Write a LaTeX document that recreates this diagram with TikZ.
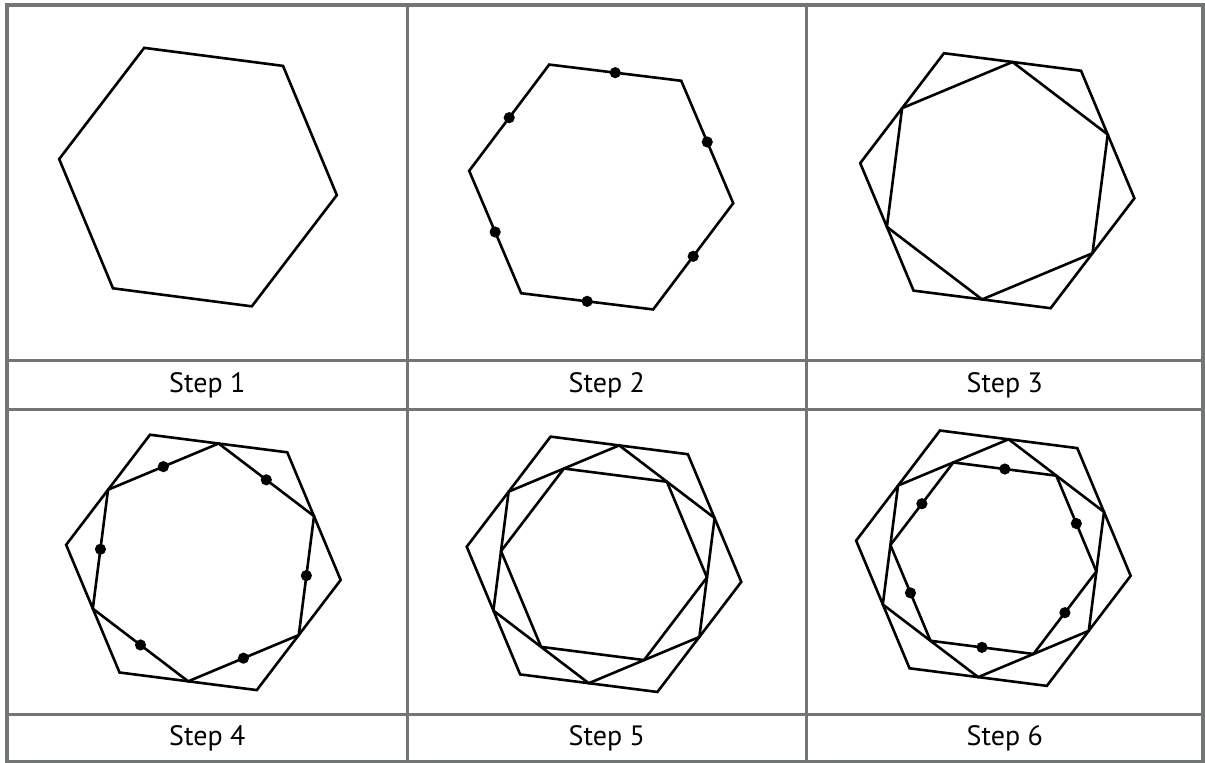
\documentclass[tikz,border=0pt]{standalone}
\usepackage{fontspec}
\setmainfont{PT Sans}
\definecolor{gridgray}{RGB}{113,118,116}
\newcommand\hexring[3]{% center, radius, start angle
  \draw[hexline, shift={(#1)}] (#3:#2) -- ({#3+60}:#2) -- ({#3+120}:#2) -- ({#3+180}:#2) -- ({#3+240}:#2) -- ({#3+300}:#2) -- cycle;}
\newcommand\hexdots[3]{%
  \foreach \k in {0,...,5} {\fill[dotmark, shift={(#1)}] ({#3+60*\k}:#2) circle[radius=5.6];}}
\begin{document}
\begin{tikzpicture}[x=1pt,y=-1pt,
  hexline/.style={line width=2.6pt, black},
  gridline/.style={line width=2.6pt, gridgray},
  outerline/.style={line width=4pt, gridgray},
  dotmark/.style={fill=black},
  steplabel/.style={font=\fontsize{28}{31}\selectfont, anchor=center, inner sep=0pt}]
\useasboundingbox (0,0) rectangle (1205,763);
% grid
\draw[gridline] (7.3,360.5) -- (1203,360.5);
\draw[gridline] (7.3,409.5) -- (1203,409.5);
\draw[gridline] (7.3,714.3) -- (1203,714.3);
\draw[gridline] (407.3,5.3) -- (407.3,761.7);
\draw[gridline] (806.3,5.3) -- (806.3,761.7);
\draw[outerline] (7.3,5.3) rectangle (1203.4,761.9);
% centres
\coordinate (c1) at (198,177.1);
\coordinate (c2) at (601.2,187);
\coordinate (c3) at (997.3,180.7);
\coordinate (c4) at (203.4,562.4);
\coordinate (c5) at (604,564.3);
\coordinate (c6) at (993.4,558.2);
% step 1
\hexring{c1}{140}{7.4}
% step 2
\hexring{c2}{133}{7}
\hexdots{c2}{115.2}{37}
% step 3
\hexring{c3}{138.2}{7.3}
\hexring{c3}{119.7}{37.3}
% step 4
\hexring{c4}{138.4}{7.3}
\hexring{c4}{119.9}{37.3}
\hexdots{c4}{103.8}{67.3}
% step 5
\hexring{c5}{138.4}{7.3}
\hexring{c5}{119.9}{37.3}
\hexring{c5}{103.8}{67.3}
% step 6
\hexring{c6}{138.4}{7.3}
\hexring{c6}{119.9}{37.3}
\hexring{c6}{103.8}{67.3}
\hexdots{c6}{89.9}{97.3}
% labels
\node[steplabel] (lab1) at (207.3,385) {Step 1};
\node[steplabel] (lab2) at (606.8,385) {Step 2};
\node[steplabel] (lab3) at (1004.8,385) {Step 3};
\node[steplabel] (lab4) at (207.3,738) {Step 4};
\node[steplabel] (lab5) at (606.8,738) {Step 5};
\node[steplabel] (lab6) at (1004.8,738) {Step 6};
\end{tikzpicture}
\end{document}
